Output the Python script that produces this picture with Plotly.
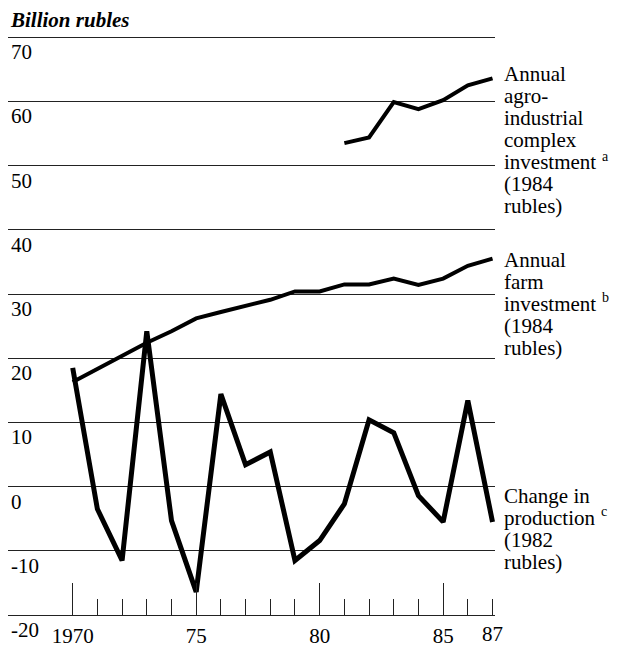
import plotly.graph_objects as go

# ---------------- data ----------------
years = list(range(1970, 1988))
production_change = [18.5, -3.5, -11.5, 24.2, -5.3, -16.4, 14.4, 3.4, 5.4, -11.5,
                     -8.4, -2.7, 10.4, 8.4, -1.4, -5.5, 13.4, -5.5]
farm_investment = [16.3, 18.3, 20.3, 22.4, 24.2, 26.2, 27.2, 28.2, 29.1, 30.4,
                   30.4, 31.5, 31.5, 32.4, 31.4, 32.4, 34.4, 35.5]
agro_years = list(range(1981, 1988))
agro_investment = [53.5, 54.4, 59.9, 58.8, 60.2, 62.5, 63.6]

y_ticks = [70, 60, 50, 40, 30, 20, 10, 0, -10, -20]
y_tick_labels = ["70", "60", "50", "40", "30", "20", "10", "0", "-10", "-20"]
x_major = [1970, 1975, 1980, 1985, 1987]
x_major_labels = ["1970", "75", "80", "85", "87"]
x_minor = list(range(1971, 1988))

y_title = "Billion rubles"
# (line text, footnote letter or None)
label_agro = [("Annual", None), ("agro-", None), ("industrial", None), ("complex", None),
              ("investment", "a"), ("(1984", None), ("rubles)", None)]
label_farm = [("Annual", None), ("farm", None), ("investment", "b"), ("(1984", None), ("rubles)", None)]
label_prod = [("Change in", None), ("production", "c"), ("(1982", None), ("rubles)", None)]

# ---------------- figure ----------------
# page body has an 8px margin; figure is sized so it fits the 619x648 window
W, H = 611, 640
ML, MR, MT, MB = 0, 124, 26, 25
OFF = 8
FONT = "Liberation Serif"
FS = 21
FS_LBL = 21
FS_SUP = 14
LBL_X = 8

# Times/Liberation Serif advance widths (em) for width of text preceding a footnote mark
ADV = {"i": .278, "n": .5, "v": .5, "e": .444, "s": .389, "t": .278, "m": .778,
       "p": .5, "r": .333, "o": .5, "d": .5, "u": .5, "c": .444, " ": .25}


def text_w(s, size):
    return sum(ADV.get(ch, .5) for ch in s) * size


fig = go.Figure()
fig.add_trace(go.Scatter(x=years, y=farm_investment, mode="lines",
                         line=dict(color="black", width=4), hoverinfo="skip"))
fig.add_trace(go.Scatter(x=agro_years, y=agro_investment, mode="lines",
                         line=dict(color="black", width=4), hoverinfo="skip"))
fig.add_trace(go.Scatter(x=years, y=production_change, mode="lines",
                         line=dict(color="black", width=5), hoverinfo="skip"))

fig.update_layout(
    width=W, height=H,
    margin=dict(l=ML, r=MR, t=MT, b=MB, pad=0),
    paper_bgcolor="white", plot_bgcolor="white",
    showlegend=False,
    font=dict(family=FONT, color="black", size=FS),
)

fig.update_xaxes(
    range=[1967.38, 1987.1],
    tickmode="array", tickvals=x_major[:-1], ticktext=x_major_labels[:-1],
    ticks="inside", ticklen=32, tickwidth=1, tickcolor="#222",
    ticklabelstandoff=2,
    showgrid=False, zeroline=False,
    showline=True, linecolor="#222", linewidth=1,
    tickfont=dict(family=FONT, size=FS, color="black"),
    minor=dict(tickmode="array", tickvals=x_minor, ticks="inside",
               ticklen=16, tickwidth=1, tickcolor="#222", showgrid=False),
)
fig.update_yaxes(
    range=[-20, 70.5],
    tickmode="array", tickvals=y_ticks, ticktext=y_tick_labels,
    ticks="", showgrid=True, gridcolor="#222", gridwidth=1,
    zeroline=False, showline=False,
    ticklabelposition="inside bottom", ticklabeloverflow="allow",
    tickfont=dict(family=FONT, size=FS, color="black"),
)

plot_h = H - MT - MB


def paper_y(page_y):
    return (H - MB - (page_y - OFF)) / plot_h


annotations = []
# label for 87 (minor tick position)
annotations.append(dict(x=x_major[-1], y=0, xref="x", yref="paper",
                        text=x_major_labels[-1], showarrow=False,
                        xanchor="center", yanchor="top", yshift=-5,
                        font=dict(family=FONT, size=FS, color="black")))
# y-axis title
annotations.append(dict(x=0, y=paper_y(20), xref="paper", yref="paper",
                        text="<b><i>" + y_title + "</i></b>", showarrow=False,
                        xanchor="left", yanchor="middle", xshift=0,
                        font=dict(family=FONT, size=21, color="black")))


def add_block(lines, top_px, step=22.3):
    for i, (t, sup) in enumerate(lines):
        yp = paper_y(top_px + i * step)
        annotations.append(dict(x=1, y=yp, xref="paper", yref="paper", text=t,
                                showarrow=False, xanchor="left", yanchor="middle",
                                borderpad=0, xshift=LBL_X,
                                font=dict(family=FONT, size=FS_LBL, color="black")))
        if sup:
            annotations.append(dict(x=1, y=yp, xref="paper", yref="paper", text=sup,
                                    showarrow=False, xanchor="left", yanchor="middle",
                                    borderpad=0,
                                    xshift=LBL_X + text_w(t + " ", FS_LBL) + 1,
                                    yshift=6,
                                    font=dict(family=FONT, size=FS_SUP, color="black")))


add_block(label_agro, 75)
add_block(label_farm, 263)
add_block(label_prod, 502)

fig.update_layout(annotations=annotations)
fig.write_html("out.html")
